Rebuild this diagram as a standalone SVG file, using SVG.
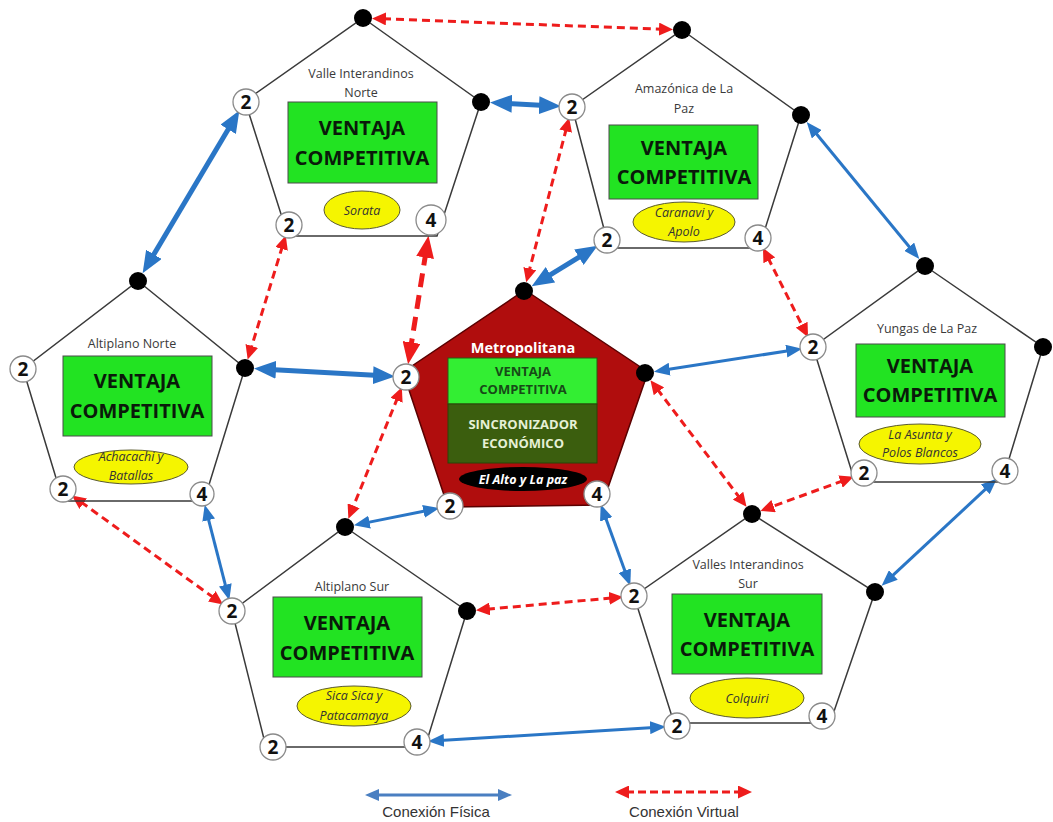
<svg xmlns="http://www.w3.org/2000/svg" width="1053" height="822" viewBox="0 0 1053 822">
<style>
.pg{fill:none;stroke:#3a3a3a;stroke-width:1.5}
.gb{fill:#22e322;stroke:#4a4a4a;stroke-width:1}
.vt{font-family:"Open Sans","Noto Sans",sans-serif;font-weight:bold;font-size:20px;fill:#0a1a0a;text-anchor:middle}
.lb{font-family:"Open Sans","Noto Sans",sans-serif;font-size:12.5px;fill:#3a3a3a;text-anchor:middle}
.el{fill:#f5f500;stroke:#5a5a30;stroke-width:1}
.et{font-family:"Open Sans","Noto Sans",sans-serif;font-style:italic;font-size:12.5px;fill:#333;text-anchor:middle}
.p{fill:#fff;stroke:#8a8a8a;stroke-width:1.3}
.d{fill:#000}
.n{font-family:"Open Sans","Noto Sans",sans-serif;font-weight:bold;font-size:19px;fill:#111;text-anchor:middle}
.bt{fill:none;stroke:#2a76c6;stroke-width:5;marker-start:url(#bT);marker-end:url(#bT)}
.bn{fill:none;stroke:#2a76c6;stroke-width:3;marker-start:url(#bN);marker-end:url(#bN)}
.rn{fill:none;stroke:#ee1c1c;stroke-width:3;stroke-dasharray:8 5;marker-start:url(#rN);marker-end:url(#rN)}
.rt{fill:none;stroke:#ee1c1c;stroke-width:5;stroke-dasharray:14 8;marker-start:url(#rT);marker-end:url(#rT)}
.lg{font-family:"Liberation Sans",Arial,sans-serif;font-size:15px;fill:#333;text-anchor:middle}
</style>
<defs>
<marker id="bT" markerUnits="userSpaceOnUse" markerWidth="22" markerHeight="18" refX="6" refY="9" orient="auto-start-reverse"><path d="M0,0L22,9L0,18z" fill="#2a76c6"/></marker>
<marker id="bN" markerUnits="userSpaceOnUse" markerWidth="16" markerHeight="13" refX="4" refY="6.5" orient="auto-start-reverse"><path d="M0,0L16,6.5L0,13z" fill="#2a76c6"/></marker>
<marker id="bL" markerUnits="userSpaceOnUse" markerWidth="14" markerHeight="12" refX="2" refY="6" orient="auto-start-reverse"><path d="M0,0L14,6L0,12z" fill="#4a7fc1"/></marker>
<marker id="rN" markerUnits="userSpaceOnUse" markerWidth="14" markerHeight="13" refX="3" refY="6.5" orient="auto-start-reverse"><path d="M0,0L14,6.5L0,13z" fill="#ee1c1c"/></marker>
<marker id="rT" markerUnits="userSpaceOnUse" markerWidth="22" markerHeight="18" refX="6" refY="9" orient="auto-start-reverse"><path d="M0,0L22,9L0,18z" fill="#ee1c1c"/></marker>
</defs>
<rect width="1053" height="822" fill="#fff"/>

<g id="connectors">
<line class="rn" x1="383" y1="18.8" x2="662" y2="29.2"/>
<line class="bt" x1="506" y1="103.4" x2="545" y2="105.5"/>
<line class="bt" x1="231.2" y1="124.2" x2="150.8" y2="259.5"/>
<line class="rn" x1="282.5" y1="246" x2="250.9" y2="348.9"/>
<line class="rt" x1="426" y1="251.6" x2="410.6" y2="348.4"/>
<line class="bt" x1="270" y1="369.4" x2="379" y2="375.5"/>
<line class="rn" x1="566.4" y1="128.3" x2="529" y2="271.6"/>
<line class="bt" x1="584" y1="254.1" x2="545.3" y2="277.9"/>
<line class="bn" x1="814.3" y1="131.2" x2="911.7" y2="249.8"/>
<line class="rn" x1="767.9" y1="257.6" x2="803.1" y2="327.4"/>
<line class="bn" x1="665.7" y1="369.8" x2="790.3" y2="350.5"/>
<line class="rn" x1="657.1" y1="388.9" x2="739.9" y2="498.1"/>
<line class="rn" x1="843.3" y1="480.6" x2="770.8" y2="507.1"/>
<line class="bn" x1="988.2" y1="486.7" x2="890.4" y2="577.7"/>
<line class="rn" x1="397.7" y1="397.4" x2="352.5" y2="508.5"/>
<line class="bn" x1="427.4" y1="510.5" x2="365.6" y2="522.9"/>
<line class="bn" x1="604.8" y1="515.6" x2="626.2" y2="574.4"/>
<line class="rn" x1="486.9" y1="609.2" x2="612.1" y2="598"/>
<line class="rn" x1="80.8" y1="501.9" x2="214.2" y2="598.1"/>
<line class="bn" x1="207.7" y1="516.3" x2="226.3" y2="588.7"/>
<line class="bn" x1="440" y1="740.6" x2="654" y2="727.4"/>
</g>

<g id="valle-interandinos-norte">
<polygon class="pg" points="363,18 481,102 437,236 288,236 245,101"/>
<text class="lb" x="361" y="78">Valle Interandinos</text>
<text class="lb" x="361" y="97">Norte</text>
<rect class="gb" x="288" y="102" width="149" height="81"/>
<text class="vt" x="362" y="135">VENTAJA</text>
<text class="vt" x="362" y="165">COMPETITIVA</text>
<ellipse class="el" cx="362" cy="210" rx="38" ry="19"/>
<text class="et" x="362" y="215">Sorata</text>
<circle class="d" cx="363" cy="18" r="9"/>
<circle class="d" cx="481" cy="102" r="9"/>
<circle class="p" cx="431" cy="220" r="15"/><text class="n" x="431" y="227">4</text>
<circle class="p" cx="289" cy="225" r="13"/><text class="n" x="289" y="232">2</text>
<circle class="p" cx="246" cy="102" r="13"/><text class="n" x="246" y="109">2</text>
</g>

<g id="amazonica-de-la-paz">
<polygon class="pg" points="682,30 801,115 759,248 609,248 572,107"/>
<text class="lb" x="684" y="93">Amazónica de La</text>
<text class="lb" x="684" y="113">Paz</text>
<rect class="gb" x="609" y="125" width="149" height="74"/>
<text class="vt" x="684" y="155">VENTAJA</text>
<text class="vt" x="684" y="184">COMPETITIVA</text>
<ellipse class="el" cx="684" cy="222" rx="51" ry="20"/>
<text class="et" x="684" y="217">Caranavi y</text>
<text class="et" x="684" y="236">Apolo</text>
<circle class="d" cx="682" cy="30" r="9"/>
<circle class="d" cx="801" cy="115" r="9"/>
<circle class="p" cx="758" cy="238" r="13"/><text class="n" x="758" y="245">4</text>
<circle class="p" cx="607" cy="240" r="13"/><text class="n" x="607" y="247">2</text>
<circle class="p" cx="572" cy="107" r="13"/><text class="n" x="572" y="114">2</text>
</g>

<g id="altiplano-norte">
<polygon class="pg" points="138,281 245,368 204,501 63,501 23,369"/>
<text class="lb" x="132" y="348">Altiplano Norte</text>
<rect class="gb" x="63" y="356" width="149" height="80"/>
<text class="vt" x="137" y="388">VENTAJA</text>
<text class="vt" x="137" y="418">COMPETITIVA</text>
<ellipse class="el" cx="131" cy="467" rx="57" ry="17"/>
<text class="et" x="131" y="461">Achacachi y</text>
<text class="et" x="131" y="480">Batallas</text>
<circle class="d" cx="138" cy="281" r="9"/>
<circle class="d" cx="245" cy="368" r="9"/>
<circle class="p" cx="202" cy="494" r="12"/><text class="n" x="202" y="501">4</text>
<circle class="p" cx="63" cy="489" r="13"/><text class="n" x="63" y="496">2</text>
<circle class="p" cx="23" cy="369" r="13"/><text class="n" x="23" y="376">2</text>
</g>

<g id="metropolitana">
<polygon points="525,290 648,372 602,505 448,507 403,372" fill="#b00d0d" stroke="#5a0000" stroke-width="1.5"/>
<text x="523" y="353" font-family="Open Sans, Noto Sans, sans-serif" font-weight="bold" font-size="14.5" fill="#fff" text-anchor="middle">Metropolitana</text>
<rect x="448" y="358" width="149" height="46" fill="#33ee33" stroke="#2a5a10" stroke-width="1"/>
<rect x="448" y="404" width="149" height="59" fill="#3b5e0e" stroke="#2a4508" stroke-width="1"/>
<g font-family="Open Sans, Noto Sans, sans-serif" font-weight="bold" font-size="13" text-anchor="middle">
<text x="523" y="376" fill="#174a17">VENTAJA</text>
<text x="523" y="394" fill="#174a17">COMPETITIVA</text>
<text x="523" y="429" fill="#e6f0d6">SINCRONIZADOR</text>
<text x="523" y="448" fill="#e6f0d6">ECONÓMICO</text>
</g>
<ellipse cx="523" cy="479" rx="64" ry="12" fill="#000"/>
<text x="523" y="484" font-family="Open Sans, Noto Sans, sans-serif" font-weight="bold" font-style="italic" font-size="12.5" fill="#fff" text-anchor="middle">El Alto y La paz</text>
<circle class="d" cx="524" cy="291" r="9"/>
<circle class="d" cx="645" cy="373" r="9"/>
<circle class="p" cx="597" cy="494" r="13"/><text class="n" x="597" y="501">4</text>
<circle class="p" cx="450" cy="506" r="13"/><text class="n" x="450" y="513">2</text>
<circle class="p" cx="406" cy="377" r="13"/><text class="n" x="406" y="384">2</text>
</g>

<g id="yungas-de-la-paz">
<polygon class="pg" points="925,266 1043,347 1002,482 855,482 813,347"/>
<text class="lb" x="927" y="333">Yungas de La Paz</text>
<rect class="gb" x="856" y="344" width="149" height="73"/>
<text class="vt" x="930" y="373">VENTAJA</text>
<text class="vt" x="930" y="402">COMPETITIVA</text>
<ellipse class="el" cx="920" cy="444" rx="61" ry="20"/>
<text class="et" x="920" y="439">La Asunta y</text>
<text class="et" x="920" y="457">Polos Blancos</text>
<circle class="d" cx="925" cy="266" r="9"/>
<circle class="d" cx="1043" cy="347" r="9"/>
<circle class="p" cx="1005" cy="471" r="13"/><text class="n" x="1005" y="478">4</text>
<circle class="p" cx="864" cy="473" r="13"/><text class="n" x="864" y="480">2</text>
<circle class="p" cx="813" cy="347" r="13"/><text class="n" x="813" y="354">2</text>
</g>

<g id="altiplano-sur">
<polygon class="pg" points="345,527 467,611 425,747 266,747 232,611"/>
<text class="lb" x="352" y="591">Altiplano Sur</text>
<rect class="gb" x="273" y="597" width="149" height="80"/>
<text class="vt" x="347" y="630">VENTAJA</text>
<text class="vt" x="347" y="660">COMPETITIVA</text>
<ellipse class="el" cx="354" cy="706" rx="57" ry="20"/>
<text class="et" x="354" y="700">Sica Sica y</text>
<text class="et" x="354" y="720">Patacamaya</text>
<circle class="d" cx="345" cy="527" r="9"/>
<circle class="d" cx="467" cy="611" r="9"/>
<circle class="p" cx="417" cy="742" r="13"/><text class="n" x="417" y="749">4</text>
<circle class="p" cx="273" cy="747" r="13"/><text class="n" x="273" y="754">2</text>
<circle class="p" cx="232" cy="611" r="13"/><text class="n" x="232" y="618">2</text>
</g>

<g id="valles-interandinos-sur">
<polygon class="pg" points="752,514 875,592 830,723 674,723 634,596"/>
<text class="lb" x="748" y="569">Valles Interandinos</text>
<text class="lb" x="748" y="588">Sur</text>
<rect class="gb" x="672" y="594" width="150" height="80"/>
<text class="vt" x="747" y="627">VENTAJA</text>
<text class="vt" x="747" y="656">COMPETITIVA</text>
<ellipse class="el" cx="747" cy="698" rx="57" ry="20"/>
<text class="et" x="747" y="703">Colquiri</text>
<circle class="d" cx="752" cy="514" r="9"/>
<circle class="d" cx="875" cy="592" r="9"/>
<circle class="p" cx="822" cy="716" r="13"/><text class="n" x="822" y="723">4</text>
<circle class="p" cx="677" cy="726" r="13"/><text class="n" x="677" y="733">2</text>
<circle class="p" cx="634" cy="596" r="13"/><text class="n" x="634" y="603">2</text>
</g>

<g id="legend">
<line x1="377" y1="795" x2="500" y2="795" stroke="#4a7fc1" stroke-width="3" marker-start="url(#bL)" marker-end="url(#bL)"/>
<text class="lg" x="436" y="817">Conexión Física</text>
<line x1="626" y1="792" x2="741" y2="792" stroke="#ee1c1c" stroke-width="3" stroke-dasharray="8 4" marker-start="url(#rN)" marker-end="url(#rN)"/>
<text class="lg" x="684" y="817">Conexión Virtual</text>
</g>
</svg>
